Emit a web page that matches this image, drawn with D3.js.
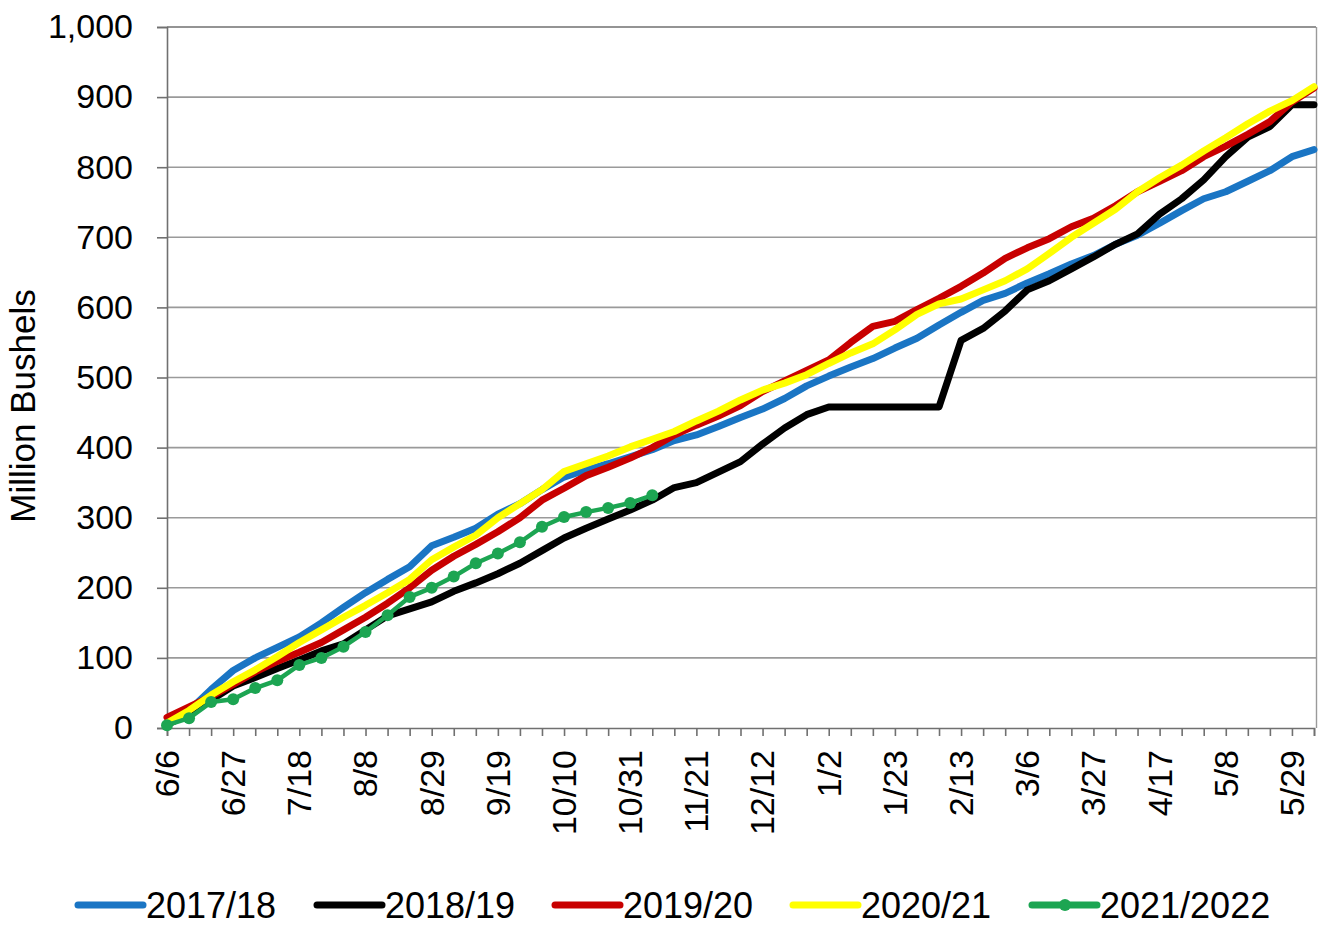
<!DOCTYPE html>
<html><head><meta charset="utf-8">
<script src="https://cdn.jsdelivr.net/npm/d3@7"></script>
<style>body{margin:0;background:#fff}svg{display:block;font-family:"Liberation Sans",Arial,sans-serif}</style>
</head><body><svg id="c" width="1325" height="929"></svg>
<script>
const tickLabels = ["6/6","6/27","7/18","8/8","8/29","9/19","10/10","10/31","11/21","12/12","1/2","1/23","2/13","3/6","3/27","4/17","5/8","5/29"];
const yTicks = [0,100,200,300,400,500,600,700,800,900,1000];
const seriesNames = ["2017/18","2018/19","2019/20","2020/21","2021/2022"];
const seriesColors = ["#1a75c4","#000000","#c80000","#ffff00","#1ca552"];
const s2017 = [5,25,55,82,100,115,130,150,172,193,212,230,260,272,285,305,320,340,358,368,377,387,397,410,418,430,443,455,470,488,502,515,527,542,556,575,593,610,620,635,648,662,674,690,703,720,738,755,765,780,795,815,825];
const s2018 = [5,20,40,60,72,85,97,110,120,140,160,170,180,195,207,220,235,253,271,285,298,311,325,343,350,365,380,405,428,447,458,458,458,458,458,458,553,570,595,625,638,655,672,690,705,733,755,782,815,843,858,889,889];
const s2019 = [15,30,45,62,80,95,108,122,140,158,178,200,225,245,262,280,300,325,342,360,372,385,400,418,432,445,460,480,495,510,525,550,573,580,597,613,630,649,670,685,698,715,727,745,765,780,795,815,830,847,865,893,913];
const s2020 = [7,25,47,66,83,102,122,140,158,175,193,212,240,258,275,300,320,340,366,377,388,401,412,423,438,452,468,482,492,504,520,535,548,568,590,605,612,625,638,655,677,700,720,740,765,785,803,823,842,862,880,895,915];
const s2021 = [4,14,37,41,57,68,90,100,116,137,161,187,200,216,235,249,265,287,301,308,314,321,332];
const allSeries = [s2017,s2018,s2019,s2020,s2021];

const svg = d3.select("#c");
const x = d3.scaleLinear().domain([0,52]).range([167,1314]);
const y = d3.scaleLinear().domain([0,1000]).range([728,27]);

// gridlines
svg.append("g").selectAll("line").data(yTicks.filter(d=>d>0)).join("line")
  .attr("x1",167).attr("x2",1316).attr("y1",d=>y(d)).attr("y2",d=>y(d))
  .attr("stroke",d=>d===1000?"#707070":"#9a9a9a").attr("stroke-width",1.6);
// right border
svg.append("line").attr("x1",1316.5).attr("x2",1316.5).attr("y1",27).attr("y2",728).attr("stroke","#9a9a9a").attr("stroke-width",1.4);

// y axis
const yAxis = svg.append("g").attr("transform","translate(167,0)")
  .call(d3.axisLeft(y).tickValues(yTicks).tickSize(10).tickFormat(d3.format(",")));
yAxis.select(".domain").attr("stroke","#707070").attr("stroke-width",1.6);
yAxis.selectAll(".tick line").attr("stroke","#707070").attr("stroke-width",1.6);
yAxis.selectAll(".tick text").attr("x",-34).attr("font-size",34).attr("fill","#000").attr("font-family","Liberation Sans, Arial, sans-serif");

// x axis: weekly ticks
const weeks = d3.range(0,53);
const xAxis = svg.append("g").attr("transform","translate(0,728)")
  .call(d3.axisBottom(x).tickValues(weeks).tickSize(8).tickFormat(""));
xAxis.select(".domain").attr("stroke","#707070").attr("stroke-width",1.6);
xAxis.selectAll(".tick line").attr("stroke","#707070").attr("stroke-width",1.6);
svg.append("g").selectAll("text").data(tickLabels).join("text")
  .attr("transform",(d,i)=>`translate(${x(i*3)},750) rotate(-90)`)
  .attr("dy","0.35em").attr("text-anchor","end").attr("font-size",34).attr("fill","#000")
  .text(d=>d);

// y title
svg.append("text").attr("transform","translate(23,406) rotate(-90)")
  .attr("text-anchor","middle").attr("dy","0.35em").attr("font-size",35).attr("fill","#000")
  .text("Million Bushels");

// lines
const line = d3.line().x((d,i)=>x(i)).y(d=>y(d));
allSeries.forEach((s,k)=>{
  svg.append("path").datum(s).attr("d",line).attr("fill","none")
    .attr("stroke",seriesColors[k]).attr("stroke-width",k===4?4.5:7)
    .attr("stroke-linejoin","round").attr("stroke-linecap","round");
});
svg.append("g").selectAll("circle").data(s2021).join("circle")
  .attr("cx",(d,i)=>x(i)).attr("cy",d=>y(d)).attr("r",6).attr("fill",seriesColors[4]);

// legend
const legX = [78,317,555,793,1032];
const leg = svg.append("g");
seriesNames.forEach((n,k)=>{
  const g = leg.append("g").attr("transform",`translate(${legX[k]},905)`);
  g.append("line").attr("x1",0).attr("x2",65).attr("y1",0).attr("y2",0)
    .attr("stroke",seriesColors[k]).attr("stroke-width",7).attr("stroke-linecap","round");
  if(k===4) g.append("circle").attr("cx",33).attr("cy",0).attr("r",6).attr("fill",seriesColors[k]);
  g.append("text").attr("x",68).attr("y",0).attr("dy","0.36em").attr("font-size",36).attr("fill","#000").text(n);
});
</script></body></html>
